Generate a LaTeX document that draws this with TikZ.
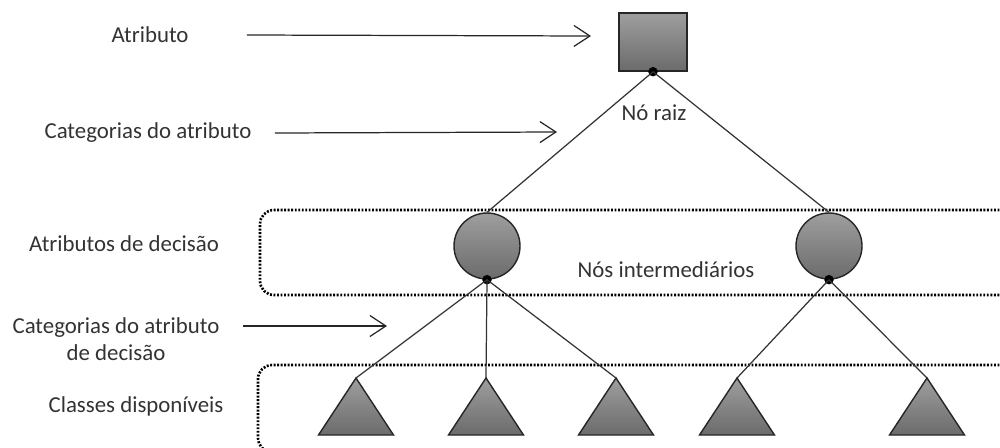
\documentclass[tikz,border=0pt]{standalone}
\usepackage{fontspec}
\setmainfont{Carlito}
\usetikzlibrary{arrows.meta}
\tikzset{
  lbl/.style={font=\fontsize{13}{15.5}\selectfont, text=black!80, inner sep=0pt},
  pointer/.style={-{Straight Barb[length=3.2mm,width=4.2mm]}, line width=0.7pt, black!85},
  grayfill/.style={draw=black!85, line width=0.8pt, top color=black!38, bottom color=black!58},
  joint/.style={circle, fill=black, inner sep=0pt, minimum size=0.19cm},
  edge/.style={line width=0.7pt, black!80},
  zone/.style={line width=1.5pt, dash pattern=on 1.1pt off 0.9pt, rounded corners=0.28cm}
}
\begin{document}
\begin{tikzpicture}[x=0.02cm, y=-0.02cm]
\useasboundingbox (0,0) rectangle (1000,447);
\clip (0,0) rectangle (1000,447);
% dotted groups
\draw[zone] (1010,210) -- (260,210) -- (260,295) -- (1010,295);
\draw[zone] (1010,365) -- (258,365) -- (258,452) -- (1010,452);
% tree
\node[grayfill, minimum width=1.36cm, minimum height=1.16cm, inner sep=0pt] (root) at (653,42) {};
\node[grayfill, circle, minimum size=1.32cm, inner sep=0pt] (d1) at (487,246) {};
\node[grayfill, circle, minimum size=1.32cm, inner sep=0pt] (d2) at (829,246) {};
\node[joint] (j0) at (root.south) {}; \node[joint] (j1) at (d1.south) {}; \node[joint] (j2) at (d2.south) {};
\foreach \X [count=\i] in {356,486,616,737,927} {
  \coordinate (t\i) at (\X,378);
  \draw[grayfill] (t\i) -- ++(37.5,57) -- ++(-75,0) -- cycle;
}
\draw[edge] (j0.center) -- (d1.north); \draw[edge] (j0.center) -- (d2.north);
\foreach \i in {1,2,3} {\draw[edge] (j1.center) -- (t\i);}
\foreach \i in {4,5} {\draw[edge] (j2.center) -- (t\i);}
\node[lbl] (raiz) at (654,113) {Nó raiz};
\node[lbl] (inter) at (666,270) {Nós intermediários};
% labels on the left
\node[lbl] (atr) at (150,35) {Atributo};
\node[lbl] (cat) at (148,133) {Categorias do atributo};
\node[lbl] (dec) at (124,244) {Atributos de decisão};
\node[lbl, align=center] (catdec) at (116,339) {Categorias do atributo\\de decisão};
\node[lbl] (cls) at (136,406) {Classes disponíveis};
\coordinate (a1) at (591,36); \coordinate (a2) at (557,132); \coordinate (a3) at (387,326);
\draw[pointer] ([xshift=1.16cm]atr.east) -- (a1);
\draw[pointer] ([xshift=0.46cm]cat.east) -- (a2);
\draw[pointer] ([xshift=0.46cm]catdec.east |- a3) -- (a3);
\end{tikzpicture}
\end{document}
